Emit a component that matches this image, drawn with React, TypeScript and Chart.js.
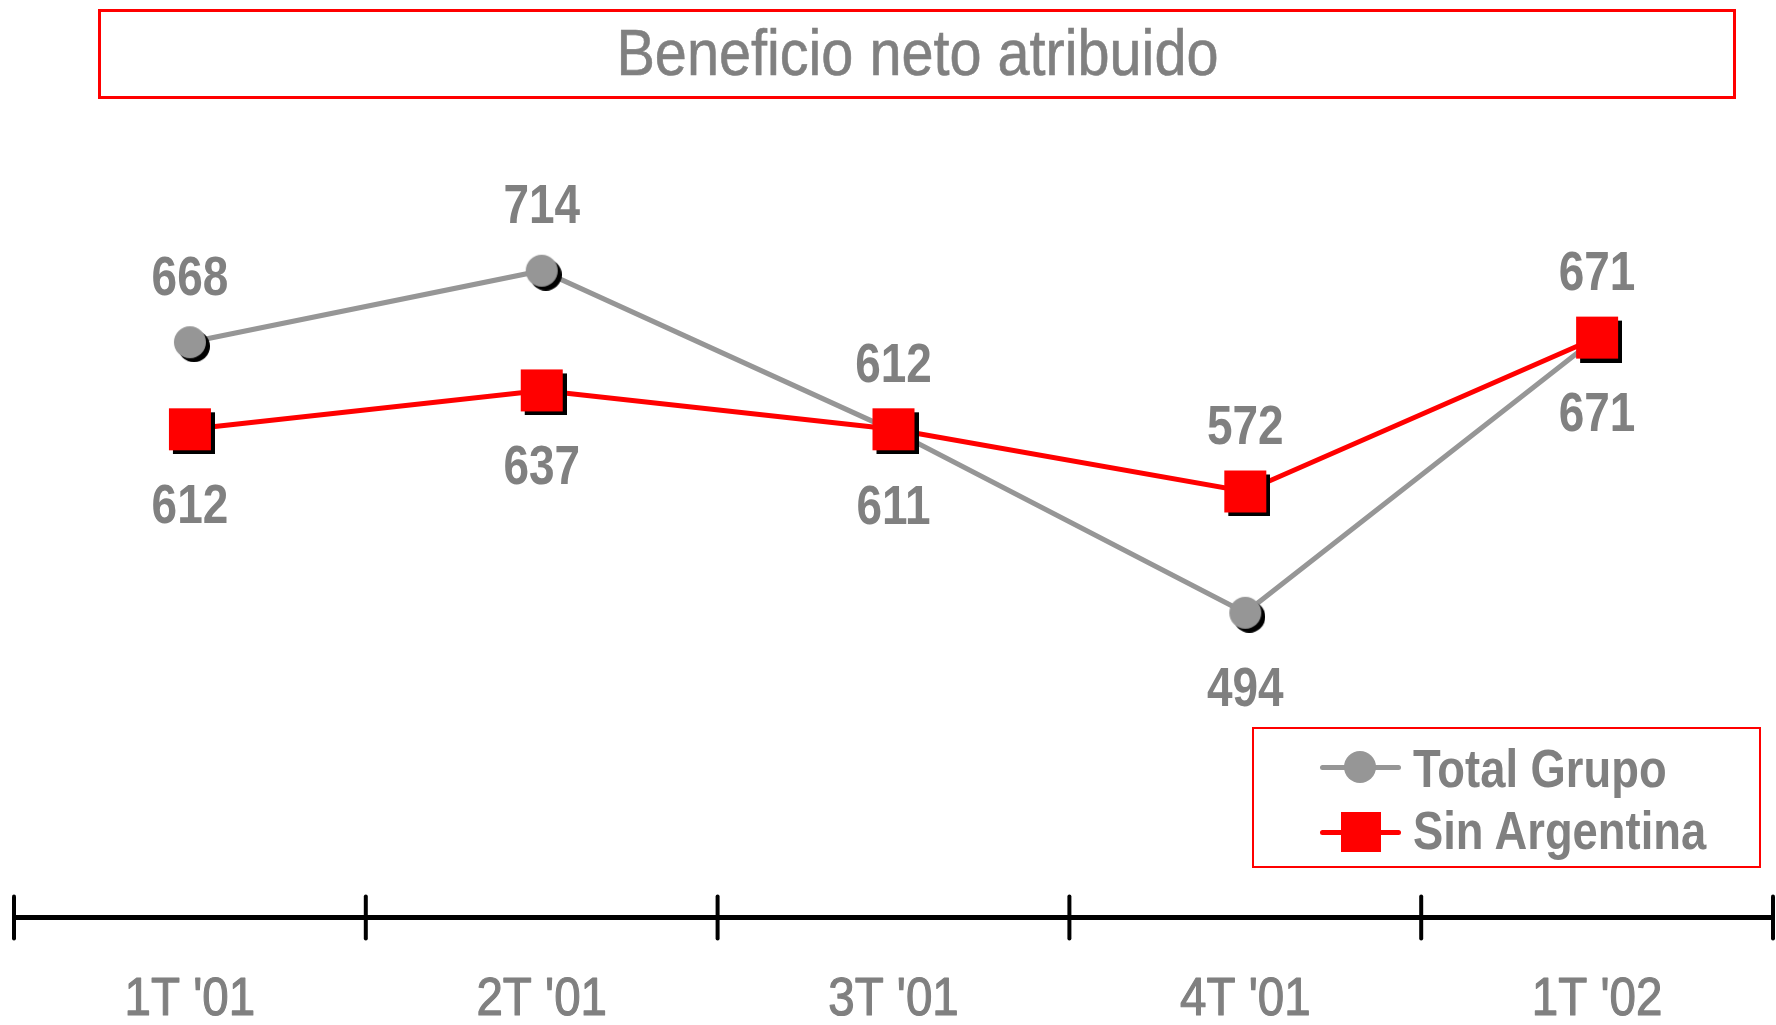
import React, { useEffect, useRef } from 'react';
import { Chart, registerables } from 'chart.js';

Chart.register(...registerables);

// ---------- data ----------
const categories = ["1T '01", "2T '01", "3T '01", "4T '01", "1T '02"];
const totalGrupo = [668, 714, 611, 494, 671];
const sinArgentina = [612, 637, 612, 572, 671];
const totalGrupoLabelSide = ['above', 'above', 'below', 'below', 'below'];
const sinArgentinaLabelSide = ['below', 'below', 'above', 'above', 'above'];
const seriesNames = ['Total Grupo', 'Sin Argentina'];
const titleText = 'Beneficio neto atribuido';
const yMin = 298;
const yMax = 800;

// ---------- styles ----------
const FONT = '"Liberation Sans", Arial, sans-serif';
const GRAY_TEXT = '#808080';
const GRAY_LINE = '#969696';
const RED = '#ff0000';

function makeMarker(shape: 'circle' | 'square', size: number, color: string, offset: number) {
  const c = document.createElement('canvas');
  const W = size + 2 * offset;
  c.width = W;
  c.height = W;
  const ctx = c.getContext('2d')!;
  const draw = (cx: number, cy: number, fill: string) => {
    ctx.fillStyle = fill;
    if (shape === 'circle') {
      ctx.beginPath();
      ctx.arc(cx, cy, size / 2, 0, Math.PI * 2);
      ctx.fill();
    } else {
      ctx.fillRect(cx - size / 2, cy - size / 2, size, size);
    }
  };
  draw(W / 2 + offset, W / 2 + offset, '#000000');
  draw(W / 2, W / 2, color);
  return c;
}

function drawNarrowText(ctx: CanvasRenderingContext2D, text: string, x: number, y: number, sx: number, stroke = 0) {
  ctx.save();
  ctx.translate(x, y);
  ctx.scale(sx, 1);
  ctx.fillText(text, 0, 0);
  if (stroke > 0) {
    ctx.lineWidth = stroke;
    ctx.strokeText(text, 0, 0);
  }
  ctx.restore();
}

const axisPlugin = {
  id: 'axisTicksAndLabels',
  afterDraw(chart: any) {
    const x = chart.scales.x;
    const ctx = chart.ctx as CanvasRenderingContext2D;
    const n = categories.length;
    const half = (x.getPixelForValue(1) - x.getPixelForValue(0)) / 2;
    const y = x.top;
    ctx.save();
    ctx.strokeStyle = '#000000';
    ctx.lineWidth = 4;
    ctx.lineCap = 'round';
    for (let i = 0; i <= n; i++) {
      const px = i < n ? x.getPixelForValue(i) - half : x.getPixelForValue(n - 1) + half;
      ctx.beginPath();
      ctx.moveTo(px, y - 21);
      ctx.lineTo(px, y + 21);
      ctx.stroke();
    }
    ctx.fillStyle = GRAY_TEXT;
    ctx.strokeStyle = GRAY_TEXT;
    ctx.lineJoin = 'round';
    ctx.font = `54px ${FONT}`;
    ctx.textAlign = 'center';
    ctx.textBaseline = 'middle';
    categories.forEach((label, i) => {
      drawNarrowText(ctx, label, x.getPixelForValue(i), y + 83, 0.88, 1.2);
    });
    ctx.restore();
  },
};

const dataLabelsPlugin = {
  id: 'dataLabels',
  afterDatasetsDraw(chart: any) {
    const ctx = chart.ctx as CanvasRenderingContext2D;
    ctx.save();
    ctx.font = `bold 56px ${FONT}`;
    ctx.fillStyle = GRAY_TEXT;
    ctx.textAlign = 'center';
    ctx.textBaseline = 'middle';
    chart.data.datasets.forEach((ds: any, di: number) => {
      const meta = chart.getDatasetMeta(di);
      const sides: string[] = ds.labelSides;
      meta.data.forEach((pt: any, i: number) => {
        const dy = sides[i] === 'above' ? -63 : 78;
        drawNarrowText(ctx, String(ds.data[i]), pt.x, pt.y + dy, 0.82);
      });
    });
    ctx.restore();
  },
};

export default function App() {
  const canvasRef = useRef<HTMLCanvasElement | null>(null);

  useEffect(() => {
    const canvas = canvasRef.current;
    if (!canvas) return;
    const circle = makeMarker('circle', 32, GRAY_LINE, 4);
    const square = makeMarker('square', 42, RED, 4);
    const chart = new Chart(canvas, {
      type: 'line',
      data: {
        labels: categories,
        datasets: [
          {
            label: seriesNames[0],
            data: totalGrupo,
            borderColor: GRAY_LINE,
            borderWidth: 5,
            pointStyle: circle as any,
            pointRadius: 16,
            pointHoverRadius: 16,
            tension: 0,
            order: 2,
            clip: false as any,
            labelSides: totalGrupoLabelSide,
          } as any,
          {
            label: seriesNames[1],
            data: sinArgentina,
            borderColor: RED,
            borderWidth: 5,
            pointStyle: square as any,
            pointRadius: 21,
            pointHoverRadius: 21,
            tension: 0,
            order: 1,
            clip: false as any,
            labelSides: sinArgentinaLabelSide,
          } as any,
        ],
      },
      options: {
        animation: false,
        responsive: false,
        maintainAspectRatio: false,
        devicePixelRatio: 1,
        events: [],
        layout: { autoPadding: false, padding: { top: 137, left: 14, right: 3, bottom: 0 } },
        plugins: {
          legend: { display: false },
          title: { display: false },
          tooltip: { enabled: false },
        },
        scales: {
          x: {
            type: 'category',
            offset: true,
            grid: { display: false, drawTicks: false },
            border: { display: true, color: '#000000', width: 5 },
            ticks: { display: false },
            afterFit: (scale: any) => {
              scale.height = 107.5;
            },
          },
          y: {
            display: false,
            min: yMin,
            max: yMax,
          },
        },
      },
      plugins: [axisPlugin, dataLabelsPlugin],
    });
    return () => chart.destroy();
  }, []);

  const legendItems = [
    { name: seriesNames[0], color: GRAY_LINE, shape: 'circle', marker: 767, text: 768 },
    { name: seriesNames[1], color: RED, shape: 'square', marker: 832, text: 830 },
  ];

  return (
    <div style={{ position: 'absolute', left: 0, top: 0, width: 1776, height: 1025, background: '#ffffff', overflow: 'hidden' }}>
      <canvas ref={canvasRef} width={1776} height={1025} style={{ position: 'absolute', left: 0, top: 0, width: 1776, height: 1025 }} />
      <div
        style={{
          position: 'absolute',
          left: 98,
          top: 9,
          width: 1638,
          height: 90,
          border: '3px solid #ff0000',
          boxSizing: 'border-box',
        }}
      />
      <div
        style={{
          position: 'absolute',
          left: 98,
          top: 53 - 32,
          width: 1638,
          height: 64,
          display: 'flex',
          alignItems: 'center',
          justifyContent: 'center',
        }}
      >
        <span
          style={{
            display: 'inline-block',
            fontFamily: FONT,
            fontSize: 64,
            lineHeight: '64px',
            color: GRAY_TEXT,
            whiteSpace: 'nowrap',
            transform: 'scaleX(0.9)',
            transformOrigin: 'center',
            WebkitTextStroke: '0.6px #808080',
          }}
        >
          {titleText}
        </span>
      </div>
      <div
        style={{
          position: 'absolute',
          left: 1252,
          top: 727,
          width: 509,
          height: 141,
          border: '2px solid #ff0000',
          boxSizing: 'border-box',
        }}
      />
      {legendItems.map((item) => (
        <React.Fragment key={item.name}>
          <div
            style={{
              position: 'absolute',
              left: 1320,
              top: item.marker - 2.5,
              width: 81,
              height: 5,
              borderRadius: 2.5,
              background: item.color,
            }}
          />
          <div
            style={{
              position: 'absolute',
              left: item.shape === 'circle' ? 1360 - 16 : 1361 - 20,
              top: item.shape === 'circle' ? item.marker - 16 : item.marker - 20,
              width: item.shape === 'circle' ? 32 : 40,
              height: item.shape === 'circle' ? 32 : 40,
              borderRadius: item.shape === 'circle' ? '50%' : 0,
              background: item.color,
            }}
          />
          <div
            style={{
              position: 'absolute',
              left: 1413,
              top: item.text - 27,
              height: 54,
              display: 'flex',
              alignItems: 'center',
            }}
          >
            <span
              style={{
                display: 'inline-block',
                fontFamily: FONT,
                fontWeight: 'bold',
                fontSize: 54,
                lineHeight: '54px',
                color: GRAY_TEXT,
                whiteSpace: 'nowrap',
                transform: 'scaleX(0.84)',
                transformOrigin: 'left center',
              }}
            >
              {item.name}
            </span>
          </div>
        </React.Fragment>
      ))}
    </div>
  );
}
